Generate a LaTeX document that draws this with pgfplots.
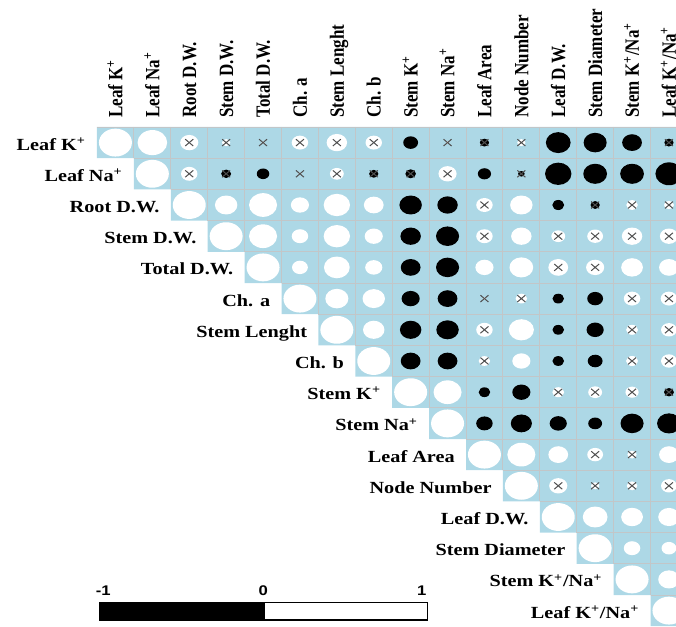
\documentclass[border=0pt]{standalone}
\usepackage{pgfplots}
\pgfplotsset{compat=1.18}
\usepackage{pgfplotstable}
\usepackage{graphicx}
\usepackage{fontspec}
\setmainfont{Liberation Serif}
\setsansfont{Liberation Sans}
\definecolor{cellblue}{HTML}{ADD8E6}
\definecolor{gridgray}{HTML}{C2C6C8}
\definecolor{crossgray}{HTML}{505050}
\pgfdeclareplotmark{ell}{%
  \pgfpathellipse{\pgfpointorigin}{\pgfpoint{1.1827\pgfplotmarksize}{0pt}}{\pgfpoint{0pt}{\pgfplotmarksize}}%
  \pgfusepathqfill}
\newcommand\hl[1]{\scalebox{1.19}[1]{#1}}
\newcommand\vl[1]{\scalebox{1}[1.19]{#1}}
\newcommand\plus{\textsuperscript{+}}
\newcommand\labfont{\fontsize{12.75}{15}\selectfont\bfseries}
\tikzset{rl/.style={anchor=base east, inner sep=0pt, font=\labfont},
  cl/.style={rotate=90, anchor=base west, inner sep=0pt, font=\labfont},
  bl/.style={anchor=base, inner sep=0pt, font=\sffamily\fontsize{10.5}{12}\selectfont\bfseries}}
\pgfplotstableread{
row c r s
0 0 1.0 0
0 1 0.9 0
0 2 0.55 1
0 3 0.25 1
0 4 0.1 1
0 5 0.5 1
0 6 0.62 1
0 7 0.5 1
0 8 -0.45 0
0 9 0.1 1
0 10 -0.28 1
0 11 0.25 1
0 12 -0.75 0
0 13 -0.7 0
0 14 -0.6 0
0 15 -0.28 1
1 1 1.0 0
1 2 0.5 1
1 3 -0.3 1
1 4 -0.38 0
1 5 0.1 1
1 6 0.42 1
1 7 -0.28 1
1 8 -0.32 1
1 9 0.55 1
1 10 -0.4 0
1 11 -0.2 1
1 12 -0.8 0
1 13 -0.72 0
1 14 -0.72 0
1 15 -0.82 0
2 2 1.0 0
2 3 0.68 0
2 4 0.85 0
2 5 0.55 0
2 6 0.8 0
2 7 0.6 0
2 8 -0.68 0
2 9 -0.62 0
2 10 0.5 1
2 11 0.68 0
2 12 -0.36 0
2 13 -0.28 1
2 14 0.35 1
2 15 0.3 1
3 3 1.0 0
3 4 0.85 0
3 5 0.5 0
3 6 0.8 0
3 7 0.55 0
3 8 -0.62 0
3 9 -0.7 0
3 10 0.5 1
3 11 0.62 0
3 12 0.42 1
3 13 0.48 1
3 14 0.62 1
3 15 0.55 1
4 4 1.0 0
4 5 0.48 0
4 6 0.78 0
4 7 0.52 0
4 8 -0.6 0
4 9 -0.7 0
4 10 0.55 0
4 11 0.72 0
4 12 0.6 1
4 13 0.55 1
4 14 0.66 0
4 15 0.6 0
5 5 1.0 0
5 6 0.7 0
5 7 0.68 0
5 8 -0.55 0
5 9 -0.6 0
5 10 0.1 1
5 11 0.35 1
5 12 -0.35 0
5 13 -0.48 0
5 14 0.5 1
5 15 0.5 1
6 6 1.0 0
6 7 0.65 0
6 8 -0.65 0
6 9 -0.68 0
6 10 0.5 1
6 11 0.76 0
6 12 -0.35 0
6 13 -0.52 0
6 14 0.36 1
6 15 0.48 1
7 7 1.0 0
7 8 -0.6 0
7 9 -0.6 0
7 10 0.35 1
7 11 0.55 0
7 12 -0.35 0
7 13 -0.45 0
7 14 0.36 1
7 15 0.48 1
8 8 1.0 0
8 9 0.85 0
8 10 -0.35 0
8 11 -0.55 0
8 12 0.36 1
8 13 0.42 1
8 14 0.4 1
8 15 -0.3 1
9 9 1.0 0
9 10 -0.5 0
9 11 -0.64 0
9 12 -0.52 0
9 13 -0.42 0
9 14 -0.7 0
9 15 -0.72 0
10 10 1.0 0
10 11 0.85 0
10 12 0.6 0
10 13 0.48 1
10 14 0.28 1
10 15 0.6 0
11 11 1.0 0
11 12 0.55 1
11 13 0.25 1
11 14 0.32 1
11 15 0.48 1
12 12 1.0 0
12 13 0.75 0
12 14 0.66 0
12 15 0.65 0
13 13 1.0 0
13 14 0.5 0
13 15 0.45 0
14 14 1.0 0
14 15 0.65 0
15 15 1.0 0
}\corr
\begin{document}
\begin{tikzpicture}
\begin{axis}[
  scale only axis, width=507pt, height=469.65pt,
  xmin=-3.1287, xmax=15.1913, ymin=-4.5705, ymax=15.5,
  y dir=reverse, hide axis, clip marker paths=true,
  unbounded coords=jump,
]
% blue staircase background
\addplot[fill=cellblue, draw=none, no markers] coordinates {(-0.5,-0.5) (15.5,-0.5) (15.5,15.5) (14.5,15.5) (14.5,14.5) (13.5,14.5) (13.5,13.5) (12.5,13.5) (12.5,12.5) (11.5,12.5) (11.5,11.5) (10.5,11.5) (10.5,10.5) (9.5,10.5) (9.5,9.5) (8.5,9.5) (8.5,8.5) (7.5,8.5) (7.5,7.5) (6.5,7.5) (6.5,6.5) (5.5,6.5) (5.5,5.5) (4.5,5.5) (4.5,4.5) (3.5,4.5) (3.5,3.5) (2.5,3.5) (2.5,2.5) (1.5,2.5) (1.5,1.5) (0.5,1.5) (0.5,0.5) (-0.5,0.5)} --cycle;
% grid lines
\addplot[draw=gridgray, line width=0.7pt, no markers] coordinates {
(-0.5,-0.5) (15.5,-0.5) (nan,nan)
(0.5,-0.5) (0.5,0.5) (nan,nan)
(1.5,-0.5) (1.5,1.5) (nan,nan)
(2.5,-0.5) (2.5,2.5) (nan,nan)
(3.5,-0.5) (3.5,3.5) (nan,nan)
(4.5,-0.5) (4.5,4.5) (nan,nan)
(5.5,-0.5) (5.5,5.5) (nan,nan)
(6.5,-0.5) (6.5,6.5) (nan,nan)
(7.5,-0.5) (7.5,7.5) (nan,nan)
(8.5,-0.5) (8.5,8.5) (nan,nan)
(9.5,-0.5) (9.5,9.5) (nan,nan)
(10.5,-0.5) (10.5,10.5) (nan,nan)
(11.5,-0.5) (11.5,11.5) (nan,nan)
(12.5,-0.5) (12.5,12.5) (nan,nan)
(13.5,-0.5) (13.5,13.5) (nan,nan)
(14.5,-0.5) (14.5,14.5) (nan,nan)
(0.5,0.5) (15.5,0.5) (nan,nan)
(1.5,1.5) (15.5,1.5) (nan,nan)
(2.5,2.5) (15.5,2.5) (nan,nan)
(3.5,3.5) (15.5,3.5) (nan,nan)
(4.5,4.5) (15.5,4.5) (nan,nan)
(5.5,5.5) (15.5,5.5) (nan,nan)
(6.5,6.5) (15.5,6.5) (nan,nan)
(7.5,7.5) (15.5,7.5) (nan,nan)
(8.5,8.5) (15.5,8.5) (nan,nan)
(9.5,9.5) (15.5,9.5) (nan,nan)
(10.5,10.5) (15.5,10.5) (nan,nan)
(11.5,11.5) (15.5,11.5) (nan,nan)
(12.5,12.5) (15.5,12.5) (nan,nan)
(13.5,13.5) (15.5,13.5) (nan,nan)
(14.5,14.5) (15.5,14.5)
};
% positive ellipses
\addplot[scatter, only marks, mark=ell,
  scatter/use mapped color={draw=none, fill=white},
  visualization depends on={abs(\thisrow{r}) \as \sz},
  scatter/@pre marker code/.append style={/tikz/mark size=\sz*10.46pt},
  restrict expr to domain={\thisrow{r}}{0:2}]
  table[x=c, y=row] {\corr};
% negative ellipses
\addplot[scatter, only marks, mark=ell,
  scatter/use mapped color={draw=none, fill=black},
  visualization depends on={abs(\thisrow{r}) \as \sz},
  scatter/@pre marker code/.append style={/tikz/mark size=\sz*10.46pt},
  restrict expr to domain={\thisrow{r}}{-2:0}]
  table[x=c, y=row] {\corr};
% non-significant crosses
\addplot[only marks, mark=x, mark size=3.6pt,
  mark options={xscale=1.18, draw=crossgray, line width=0.75pt},
  restrict expr to domain={\thisrow{s}}{0.5:1.5}]
  table[x=c, y=row] {\corr};
% colour bar
\addplot[fill=black, draw=black, line width=1.1pt, no markers] coordinates {(-0.4377,14.734) (4.026,14.734) (4.026,15.301) (-0.4377,15.301)} --cycle;
\addplot[fill=white, draw=black, line width=1.1pt, no markers] coordinates {(4.026,14.734) (8.451,14.734) (8.451,15.301) (4.026,15.301)} --cycle;
\node[bl] at (axis cs:-0.329,14.53) {\hl{-1}};
\node[bl] at (axis cs:4.007,14.53) {\hl{0}};
\node[bl] at (axis cs:8.30,14.53) {\hl{1}};
% row labels
\node[rl] at (axis cs:-0.8,0.24) {\hl{Leaf K\plus}};
\node[rl] at (axis cs:0.2,1.24) {\hl{Leaf Na\plus}};
\node[rl] at (axis cs:1.2,2.24) {\hl{Root D.W.}};
\node[rl] at (axis cs:2.2,3.24) {\hl{Stem D.W.}};
\node[rl] at (axis cs:3.2,4.24) {\hl{Total D.W.}};
\node[rl] at (axis cs:4.2,5.24) {\hl{Ch. a}};
\node[rl] at (axis cs:5.2,6.24) {\hl{Stem Lenght}};
\node[rl] at (axis cs:6.2,7.24) {\hl{Ch. b}};
\node[rl] at (axis cs:7.2,8.24) {\hl{Stem K\plus}};
\node[rl] at (axis cs:8.2,9.24) {\hl{Stem Na\plus}};
\node[rl] at (axis cs:9.2,10.24) {\hl{Leaf Area}};
\node[rl] at (axis cs:10.2,11.24) {\hl{Node Number}};
\node[rl] at (axis cs:11.2,12.24) {\hl{Leaf D.W.}};
\node[rl] at (axis cs:12.2,13.24) {\hl{Stem Diameter}};
\node[rl] at (axis cs:13.2,14.24) {\hl{Stem K\plus/Na\plus}};
\node[rl] at (axis cs:14.2,15.24) {\hl{Leaf K\plus/Na\plus}};
% column labels
\node[cl] at (axis cs:0.187,-0.79) {\vl{Leaf K\plus}};
\node[cl] at (axis cs:1.187,-0.79) {\vl{Leaf Na\plus}};
\node[cl] at (axis cs:2.187,-0.79) {\vl{Root D.W.}};
\node[cl] at (axis cs:3.187,-0.79) {\vl{Stem D.W.}};
\node[cl] at (axis cs:4.187,-0.79) {\vl{Total D.W.}};
\node[cl] at (axis cs:5.187,-0.79) {\vl{Ch. a}};
\node[cl] at (axis cs:6.187,-0.79) {\vl{Stem Lenght}};
\node[cl] at (axis cs:7.187,-0.79) {\vl{Ch. b}};
\node[cl] at (axis cs:8.187,-0.79) {\vl{Stem K\plus}};
\node[cl] at (axis cs:9.187,-0.79) {\vl{Stem Na\plus}};
\node[cl] at (axis cs:10.187,-0.79) {\vl{Leaf Area}};
\node[cl] at (axis cs:11.187,-0.79) {\vl{Node Number}};
\node[cl] at (axis cs:12.187,-0.79) {\vl{Leaf D.W.}};
\node[cl] at (axis cs:13.187,-0.79) {\vl{Stem Diameter}};
\node[cl] at (axis cs:14.187,-0.79) {\vl{Stem K\plus/Na\plus}};
\node[cl] at (axis cs:15.187,-0.79) {\vl{Leaf K\plus/Na\plus}};
\coordinate (BBA) at (axis cs:-3.1287,-4.5705);
\coordinate (BBB) at (axis cs:15.1913,15.5);
\end{axis}
\pgfresetboundingbox
\path[use as bounding box] (BBA) rectangle (BBB);
\end{tikzpicture}
\end{document}
